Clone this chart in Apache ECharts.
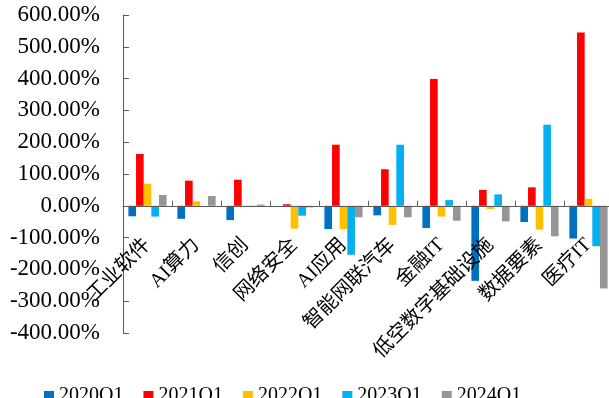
<!DOCTYPE html>
<html><head><meta charset="utf-8">
<script src="https://cdn.jsdelivr.net/npm/echarts@6/dist/echarts.min.js"></script>
<style>html,body{margin:0;padding:0;background:#fff;}#c{width:609px;height:398px;}</style>
</head><body><div id="c"></div>
<script>
const categories = ['工业软件','AI算力','信创','网络安全','AI应用','智能网联汽车','金融IT','低空数字基础设施','数据要素','医疗IT'];
const seriesNames = ['2020Q1','2021Q1','2022Q1','2023Q1','2024Q1'];
const v2020 = [-33, -41, -45, 0, -73, -30, -70, -236, -51, -103];
const v2021 = [163, 79, 82, 5, 192, 115, 399, 50, 58, 545];
const v2022 = [69, 14, -3, -72, -73, -60, -34, -10, -75, 22];
const v2023 = [-34, 0, -4, -31, -154, 192, 18, 36, 255, -127];
const v2024 = [34, 31, 4, -5, -36, -36, -47, -49, -96, -260];
const yTicks = {min: -400, max: 600, interval: 100};
const colors = ['#0070C0','#FF0000','#FFC000','#00B0F0','#969696'];
const values = [v2020, v2021, v2022, v2023, v2024];
const font = '"Liberation Serif", "Noto Sans CJK SC", serif';
const gridTop = 15, gridHeight = 318;
const zeroOffset = -gridHeight * (0 - yTicks.min) / (yTicks.max - yTicks.min);
const chart = echarts.init(document.getElementById('c'));
chart.setOption({
  animation: false,
  color: colors,
  grid: {left: 123, right: -4, top: gridTop, height: gridHeight, outerBoundsMode: 'none', containLabel: false},
  legend: {
    data: seriesNames, left: 39, top: 381, itemWidth: 10, itemHeight: 10, itemGap: 20,
    icon: 'rect', textStyle: {fontFamily: font, fontSize: 20, color: '#000'}
  },
  xAxis: {
    type: 'category', data: categories, position: 'bottom', offset: zeroOffset, z: 10,
    axisLine: {onZero: false, lineStyle: {color: '#595959', width: 1}},
    axisTick: {show: true, inside: true, length: 5, lineStyle: {color: '#595959'}},
    axisLabel: {rotate: 45, margin: 36, interval: 0, fontFamily: font, fontSize: 20, color: '#000', hideOverlap: false},
    splitLine: {show: false}
  },
  yAxis: {
    type: 'value', min: yTicks.min, max: yTicks.max, interval: yTicks.interval,
    axisLine: {show: true, lineStyle: {color: '#595959', width: 1}},
    axisTick: {show: true, inside: true, length: 6, lineStyle: {color: '#595959'}},
    axisLabel: {margin: 23, fontFamily: font, fontSize: 23, color: '#000',
      formatter: v => v.toFixed(2) + '%'},
    splitLine: {show: false}
  },
  series: seriesNames.map((n, i) => ({
    name: n, type: 'bar', data: values[i], barGap: '0%', barCategoryGap: '22%'
  }))
});
</script></body></html>
